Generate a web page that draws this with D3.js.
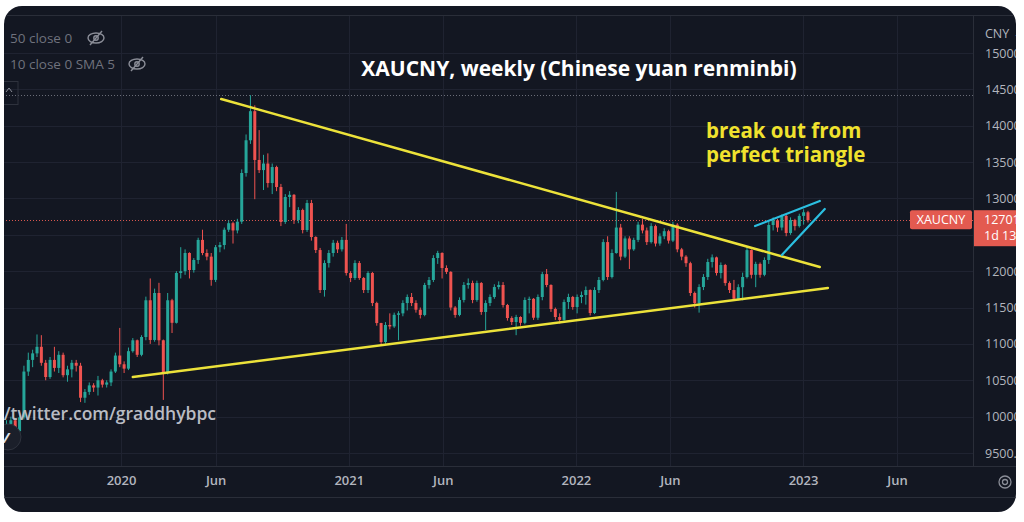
<!DOCTYPE html>
<html>
<head>
<meta charset="utf-8">
<script src="https://cdn.jsdelivr.net/npm/d3@7"></script>
<style>
  body { margin: 0; background: #fff; }
  svg { display: block; font-family: "Open Sans", sans-serif; }
</style>
</head>
<body>
<svg id="chart"></svg>
<script>
// weekly candles, first one is the week of 1 Jul 2019
const firstWeek = new Date(2019, 6, 1)
const firstOpen = 9850
const closes = [
  9900, 9950, 9800, 9990, 10620, 10780, 10870, 10960, 10740, 10545,
  10780, 10670, 10850, 10570, 10650, 10740, 10700, 10260, 10340, 10430,
  10400, 10500, 10440, 10470, 10620, 10840, 10720, 10660, 10900, 11050,
  10850, 11095, 11600, 11054, 11700, 11050, 10600, 11600, 11290, 11975,
  12000, 12250, 12016, 12154, 12430, 12250, 12200, 11880, 12330, 12360,
  12570, 12660, 12560, 12680, 13350, 13800, 14200, 13529, 13390, 13480,
  13212, 13432, 13157, 12676, 13020, 13050, 12704, 12841, 12566, 12937,
  12470, 12291, 11741, 12112, 12250, 12390, 12300, 12430, 11975, 11906,
  12112, 11906, 11741, 11975, 11562, 11287, 11026, 11260, 11240, 11400,
  11420, 11562, 11645, 11562, 11470, 11398, 11810, 11879, 12181, 12250,
  12044, 11990, 11500, 11398, 11604, 11810, 11837, 11604, 11837, 11439,
  11562, 11645, 11782, 11810, 11535, 11356, 11301, 11370, 11290, 11604,
  11620, 11360, 11645, 11960, 11810, 11480, 11370, 11330, 11576, 11645,
  11507, 11645, 11672, 11741, 11425, 11741, 11879, 12400, 11920, 12250,
  12600, 12200, 12450, 12300, 12430, 12640, 12560, 12400, 12620, 12380,
  12480, 12550, 12420, 12640, 12300, 12200, 12110, 11700, 11560, 11782,
  11920, 12126, 12190, 11975, 12085, 11837, 11741, 11620, 11780, 11920,
  12290, 11950, 12100, 11950, 12154, 12635, 12700, 12600, 12760, 12525,
  12704, 12620, 12760, 12810, 12701
]
const highs = [
  9950, 10000, 9980, 10050, 10700, 10880, 10920, 11130, 11120, 10780,
  10820, 10960, 10900, 10880, 10700, 10780, 10780, 10740, 10380, 10470,
  10460, 10560, 10520, 10500, 10650, 10880, 11220, 10760, 10950, 11080,
  11060, 11120, 11650, 11900, 11760, 11840, 11060, 11700, 11620, 12000,
  12330, 12300, 12260, 12180, 12460, 12570, 12300, 12250, 12360, 12400,
  12600, 12700, 12680, 12720, 13400, 13880, 14420, 14280, 13940, 13600,
  13620, 13480, 13450, 13200, 13060, 13100, 13060, 12880, 12860, 12980,
  12980, 12480, 12320, 12150, 12290, 12430, 12420, 12470, 12650, 12000,
  12150, 12140, 11920, 12000, 11990, 11580, 11290, 11300, 11420, 11430,
  11450, 11600, 11680, 11700, 11600, 11500, 11840, 11920, 12220, 12280,
  12260, 12080, 12000, 11520, 11640, 11850, 11900, 11870, 11870, 11850,
  11600, 11680, 11820, 11860, 11850, 11550, 11380, 11400, 11380, 11640,
  11650, 11630, 11680, 11990, 12030, 11820, 11500, 11420, 11610, 11690,
  11660, 11680, 11720, 11790, 11750, 11780, 11920, 12440, 12480, 12300,
  13090, 12650, 12480, 12480, 12460, 12680, 12720, 12600, 12660, 12640,
  12520, 12590, 12570, 12680, 12660, 12320, 12220, 12130, 11720, 11820,
  11960, 12170, 12230, 12200, 12120, 12100, 11860, 11880, 11820, 11980,
  12330, 12300, 12130, 12120, 12190, 12680, 12740, 12720, 12780, 12780,
  12740, 12720, 12790, 12850, 12830
]
const lows = [
  9840, 9880, 9720, 9720, 9960, 10560, 10680, 10820, 10700, 10500,
  10520, 10620, 10600, 10540, 10480, 10540, 10620, 10200, 10190, 10300,
  10340, 10290, 10400, 10400, 10420, 10600, 10680, 10600, 10640, 10880,
  10820, 10830, 11050, 11000, 11030, 10980, 10230, 10580, 11150, 11280,
  11900, 11950, 11900, 11980, 12100, 12220, 12150, 11800, 11850, 12260,
  12300, 12540, 12380, 12520, 12650, 13300, 13750, 12990, 13350, 13116,
  13150, 13060, 13100, 12620, 12650, 12880, 12650, 12660, 12520, 12540,
  12420, 12250, 11700, 11650, 12050, 12200, 12250, 12270, 11940, 11850,
  11880, 11880, 11700, 11700, 11520, 11250, 10980, 11000, 11200, 11220,
  11050, 11380, 11460, 11520, 11430, 11350, 11380, 11760, 11850, 12100,
  11900, 11960, 11460, 11360, 11380, 11570, 11760, 11560, 11580, 11400,
  11191, 11520, 11620, 11750, 11500, 11320, 11260, 11120, 11250, 11270,
  11420, 11330, 11330, 11600, 11780, 11440, 11330, 11280, 11320, 11480,
  11470, 11420, 11560, 11540, 11390, 11410, 11700, 11860, 11880, 11900,
  12240, 12150, 12180, 12030, 12280, 12400, 12520, 12360, 12380, 12340,
  12350, 12440, 12380, 12400, 12260, 12150, 12060, 11660, 11500, 11430,
  11740, 11880, 12050, 11940, 11900, 11800, 11700, 11590, 11600, 11600,
  11900, 11900, 11780, 11910, 11930, 12100, 12560, 12540, 12560, 12480,
  12500, 12560, 12600, 12640, 12670
]

const priceTicks = [15000, 14500, 14000, 13500, 13000, 12500, 12000, 11500, 11000, 10500, 10000, 9500]
const timeTicks = ['2020-01-01', '2020-06-01', '2021-01-01', '2021-06-01', '2022-01-01', '2022-06-01', '2023-01-01', '2023-06-01']
const timeLabels = ['2020', 'Jun', '2021', 'Jun', '2022', 'Jun', '2023', 'Jun']

// drawn lines, [date, price]
const triangleTop = [['2020-06-10', 14367], ['2023-01-28', 12057]]
const triangleBottom = [['2020-01-20', 10545], ['2023-02-10', 11769]]
const wedgeTop = [['2022-10-16', 12621], ['2023-01-28', 12965]]
const wedgeBottom = [['2022-11-28', 12223], ['2023-02-05', 12855]]

const lastPrice = 12701
const highLine = 14420

const width = 1024
const height = 522
const paneRight = 973
const paneBottom = 466

const svg = d3.select('#chart').attr('width', width).attr('height', height)
svg.append('rect').attr('width', width).attr('height', height).attr('fill', '#fff')

svg.append('clipPath').attr('id', 'frame')
  .append('rect').attr('x', 4).attr('y', 6).attr('width', 1012).attr('height', 506).attr('rx', 18)
svg.append('clipPath').attr('id', 'pane')
  .append('rect').attr('x', 4).attr('y', 16).attr('width', paneRight - 4).attr('height', paneBottom - 16)

const root = svg.append('g').attr('clip-path', 'url(#frame)')
root.append('rect').attr('x', 0).attr('y', 0).attr('width', width).attr('height', height).attr('fill', '#131722')

const xScale = d3.scaleTime()
  .domain([new Date(2020, 0, 1), new Date(2023, 0, 1)])
  .range([121, 803])
const yScale = d3.scaleLinear()
  .domain([9500, 15000])
  .range([453, 53])

const parse = d3.timeParse('%Y-%m-%d')

// grid
const grid = root.append('g').attr('stroke', '#1f2331').attr('stroke-width', 1)
grid.selectAll('.hg').data(priceTicks).enter().append('line')
  .attr('x1', 0).attr('x2', paneRight)
  .attr('y1', d => Math.round(yScale(d)) + 0.5).attr('y2', d => Math.round(yScale(d)) + 0.5)
grid.selectAll('.vg').data(timeTicks).enter().append('line')
  .attr('y1', 16).attr('y2', paneBottom)
  .attr('x1', d => Math.round(xScale(parse(d))) + 0.5).attr('x2', d => Math.round(xScale(parse(d))) + 0.5)

// pane borders
const borders = root.append('g').attr('stroke', '#2a2e39').attr('stroke-width', 1)
borders.append('line').attr('x1', 0).attr('x2', width).attr('y1', 15.5).attr('y2', 15.5)
borders.append('line').attr('x1', paneRight + 0.5).attr('x2', paneRight + 0.5).attr('y1', 16).attr('y2', paneBottom)
borders.append('line').attr('x1', 0).attr('x2', width).attr('y1', paneBottom + 0.5).attr('y2', paneBottom + 0.5)
borders.append('line').attr('x1', 0).attr('x2', width).attr('y1', 497.5).attr('y2', 497.5)

const pane = root.append('g').attr('clip-path', 'url(#pane)')

// dotted price lines
pane.append('line').attr('x1', 0).attr('x2', paneRight)
  .attr('y1', Math.round(yScale(highLine)) + 0.5).attr('y2', Math.round(yScale(highLine)) + 0.5)
  .attr('stroke', '#6a6d78').attr('stroke-dasharray', '1,2')
pane.append('line').attr('x1', 0).attr('x2', paneRight)
  .attr('y1', Math.round(yScale(lastPrice)) + 0.5).attr('y2', Math.round(yScale(lastPrice)) + 0.5)
  .attr('stroke', '#d8574f').attr('stroke-dasharray', '1,2')

// candles
const candles = closes.map((c, i) => ({
  date: d3.timeDay.offset(firstWeek, i * 7),
  open: i ? closes[i - 1] : firstOpen,
  close: c,
  high: highs[i],
  low: lows[i]
}))
const up = '#26a69a'
const down = '#ef5350'
const cg = pane.selectAll('.candle').data(candles).enter().append('g')
cg.append('line')
  .attr('x1', d => xScale(d.date)).attr('x2', d => xScale(d.date))
  .attr('y1', d => yScale(d.high)).attr('y2', d => yScale(d.low))
  .attr('stroke', d => d.close >= d.open ? up : down).attr('stroke-width', 1)
cg.append('rect')
  .attr('x', d => xScale(d.date) - 1.5).attr('width', 3)
  .attr('y', d => yScale(Math.max(d.open, d.close)))
  .attr('height', d => Math.max(1, Math.abs(yScale(d.open) - yScale(d.close))))
  .attr('fill', d => d.close >= d.open ? up : down)

// trend lines
const drawLine = (pts, color, w) => pane.append('line')
  .attr('x1', xScale(parse(pts[0][0]))).attr('y1', yScale(pts[0][1]))
  .attr('x2', xScale(parse(pts[1][0]))).attr('y2', yScale(pts[1][1]))
  .attr('stroke', color).attr('stroke-width', w).attr('stroke-linecap', 'round')
drawLine(triangleTop, '#ece23a', 2.5)
drawLine(triangleBottom, '#ece23a', 2.5)
drawLine(wedgeTop, '#2bbfe0', 2.2)
drawLine(wedgeBottom, '#2bbfe0', 2.2)

// annotations
root.append('text').attr('x', 579).attr('y', 76).attr('text-anchor', 'middle')
  .attr('fill', '#ffffff').attr('font-size', 21).attr('font-weight', 700)
  .text('XAUCNY, weekly (Chinese yuan renminbi)')
const note = root.append('text').attr('x', 706).attr('y', 138)
  .attr('fill', '#f0e22e').attr('font-size', 20.5).attr('font-weight', 700)
note.append('tspan').attr('x', 706).text('break out from')
note.append('tspan').attr('x', 706).attr('dy', 24).text('perfect triangle')
root.append('text').attr('x', 216).attr('y', 420).attr('text-anchor', 'end')
  .attr('fill', '#b9bcc4').attr('font-size', 17.5).attr('font-weight', 600)
  .text('https://twitter.com/graddhybpc')

// indicator legend
const legendRows = [
  { text: '50 close 0', y: 43, eye: 96 },
  { text: '10 close 0 SMA 5', y: 69, eye: 137 }
]
legendRows.forEach(r => {
  root.append('text').attr('x', 10).attr('y', r.y)
    .attr('fill', '#6f727d').attr('font-size', 13.5).text(r.text)
  const eye = root.append('g').attr('transform', 'translate(' + r.eye + ',' + (r.y - 5) + ')')
    .attr('fill', 'none').attr('stroke', '#8a8d97').attr('stroke-width', 1.4)
  eye.append('ellipse').attr('rx', 8).attr('ry', 5)
  eye.append('circle').attr('r', 2.2)
  eye.append('line').attr('x1', -6).attr('y1', 7).attr('x2', 6).attr('y2', -7)
})
root.append('rect').attr('x', -4).attr('y', 81.5).attr('width', 22).attr('height', 23)
  .attr('fill', 'none').attr('stroke', '#2e323d')
root.append('path').attr('d', 'M6,92 L9,88 L12,92').attr('fill', 'none').attr('stroke', '#8a8d97')

// tv logo (partly hidden at the left edge)
root.append('circle').attr('cx', 8).attr('cy', 437).attr('r', 13)
  .attr('fill', '#1b1f2a').attr('stroke', '#2f333e')
root.append('text').attr('x', 3).attr('y', 443).attr('fill', '#e0e3eb')
  .attr('font-size', 15).attr('font-weight', 700).attr('font-style', 'italic').text('/')

// price axis (the label under the last price tag is hidden, as on the screen)
const tagY = yScale(lastPrice)
const yAxis = d3.axisRight(yScale).tickValues(priceTicks).tickSize(0).tickPadding(0)
  .tickFormat(d => Math.abs(yScale(d) - tagY) < 20 ? '' : d3.format('.2f')(d))
const ya = root.append('g').attr('transform', 'translate(985,0)').call(yAxis)
ya.select('.domain').remove()
ya.selectAll('text').attr('fill', '#b2b5be').attr('font-size', 12.5)
  .attr('font-family', '"Open Sans", sans-serif')
root.append('text').attr('x', 985).attr('y', 38).attr('fill', '#b2b5be')
  .attr('font-size', 12.5).text('CNY \u2304')

// last price tags
root.append('rect').attr('x', 910).attr('y', tagY - 10).attr('width', 62).attr('height', 19)
  .attr('rx', 2).attr('fill', '#e35a50')
root.append('text').attr('x', 941).attr('y', tagY + 4).attr('text-anchor', 'middle')
  .attr('fill', '#fff').attr('font-size', 12.5).text('XAUCNY')
root.append('rect').attr('x', 974).attr('y', tagY - 10).attr('width', 50).attr('height', 36)
  .attr('fill', '#e35a50')
root.append('text').attr('x', 984).attr('y', tagY + 4)
  .attr('fill', '#fff').attr('font-size', 12.5).text(d3.format('.2f')(lastPrice))
root.append('text').attr('x', 984).attr('y', tagY + 20)
  .attr('fill', '#fff').attr('font-size', 12.5).text('1d 13h')

// time axis
const xAxis = d3.axisBottom(xScale).tickValues(timeTicks.map(parse)).tickSize(0).tickPadding(0)
  .tickFormat((d, i) => timeLabels[i])
const xa = root.append('g').attr('transform', 'translate(0,476)').call(xAxis)
xa.select('.domain').remove()
xa.selectAll('text').attr('fill', '#b2b5be').attr('font-size', 13).attr('font-weight', 600)
  .attr('font-family', '"Open Sans", sans-serif')

// settings gear
const gear = root.append('g').attr('transform', 'translate(1005,482)')
  .attr('fill', 'none').attr('stroke', '#8a8d97').attr('stroke-width', 1.3)
gear.append('circle').attr('r', 6)
gear.append('circle').attr('r', 2.5)
</script>
</body>
</html>
